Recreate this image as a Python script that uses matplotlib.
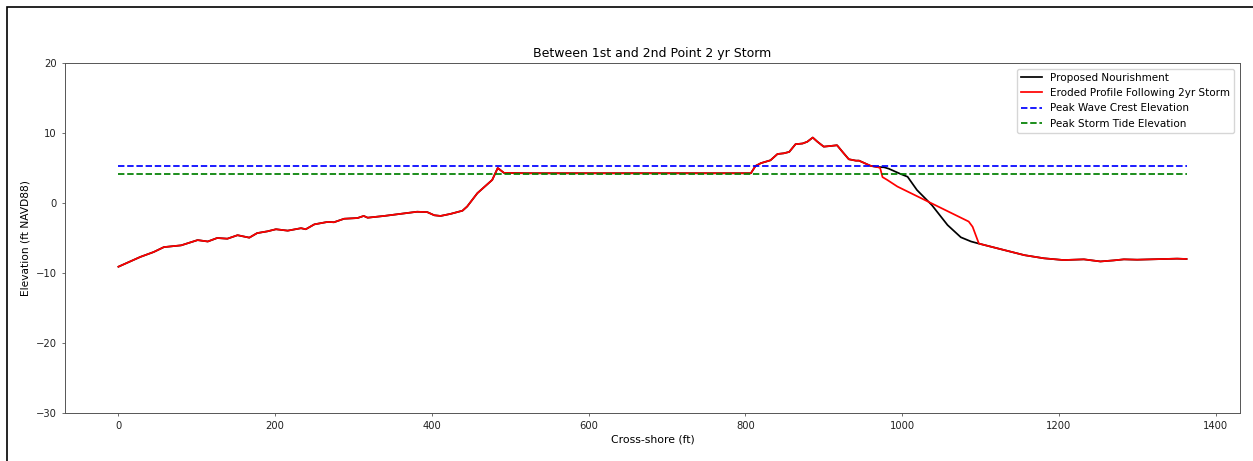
import matplotlib
matplotlib.use("Agg")
import matplotlib.pyplot as plt
from matplotlib.patches import Rectangle

# Profile shared by both surveys: landward side through the berm crest
landward_x = [0, 10, 28, 45, 58, 80, 101, 114, 126, 139, 152, 167, 177, 190, 201,
              216, 233, 239, 250, 267, 275, 288, 305, 313, 318, 339, 360, 381,
              394, 403, 411, 424, 439, 445, 458, 471, 477, 484, 492, 520, 600,
              700, 807, 813, 820, 832, 841, 849, 856, 864, 873, 879, 886, 892,
              900, 909, 917, 924, 932, 941, 945, 951, 960, 968]
landward_z = [-9.1, -8.6, -7.7, -7.0, -6.3, -6.05, -5.3, -5.5, -5.0, -5.1, -4.6,
              -4.95, -4.3, -4.05, -3.75, -3.95, -3.6, -3.75, -3.05, -2.7, -2.75,
              -2.25, -2.15, -1.85, -2.1, -1.85, -1.55, -1.25, -1.3, -1.75, -1.85,
              -1.55, -1.1, -0.5, 1.4, 2.7, 3.3, 5.0, 4.3, 4.25, 4.25, 4.25, 4.25,
              5.3, 5.7, 6.1, 7.0, 7.1, 7.3, 8.4, 8.5, 8.75, 9.35, 8.75, 8.05,
              8.15, 8.25, 7.3, 6.25, 6.05, 6.05, 5.75, 5.3, 5.15]

# Seaward toe of the proposed nourishment
nourish_toe_x = [977, 983, 998, 1007, 1019, 1038, 1058, 1075, 1088]
nourish_toe_z = [5.1, 4.9, 4.15, 3.75, 1.85, -0.3, -3.15, -4.9, -5.5]

# Seaward toe after the 2-yr storm
eroded_toe_x = [972, 975, 981, 994, 1085, 1090]
eroded_toe_z = [5.0, 3.7, 3.3, 2.35, -2.65, -3.4]

# Offshore profile, shared by both surveys
offshore_x = [1098, 1126, 1156, 1181, 1206, 1232, 1253, 1270, 1283, 1300, 1351, 1363]
offshore_z = [-5.8, -6.6, -7.45, -7.9, -8.15, -8.05, -8.35, -8.2, -8.05, -8.1, -7.95, -8.0]

wave_crest_elev = 5.3
storm_tide_elev = 4.1
water_x = [0, 1363]

proposed_x = landward_x + nourish_toe_x + offshore_x
proposed_z = landward_z + nourish_toe_z + offshore_z
eroded_x = landward_x + eroded_toe_x + offshore_x
eroded_z = landward_z + eroded_toe_z + offshore_z

plt.rcParams.update({
    "font.family": "DejaVu Sans",
    "font.size": 7.2,
    "axes.linewidth": 0.7,
    "axes.edgecolor": "#555555",
    "xtick.major.size": 2.5,
    "ytick.major.size": 2.5,
    "xtick.major.width": 0.6,
    "ytick.major.width": 0.6,
    "xtick.color": "#555555",
    "ytick.color": "#555555",
    "xtick.labelcolor": "#222222",
    "ytick.labelcolor": "#222222",
})

W, H = 1253, 461
fig = plt.figure(figsize=(W / 100, H / 100), dpi=100)
ax = fig.add_axes([65 / W, 1 - 413 / H, (1240 - 65) / W, (413 - 63) / H])

# outer frame around the figure
fig.patches.append(Rectangle((7 / W, -0.1), 1.2, 1 - 7 / H + 0.1,
                             transform=fig.transFigure, fill=False,
                             edgecolor="black", linewidth=1.2))

lw = 1.25
ax.plot(proposed_x, proposed_z, color="black", lw=lw, label="Proposed Nourishment")
ax.plot(eroded_x, eroded_z, color="red", lw=lw, label="Eroded Profile Following 2yr Storm")
ax.plot(water_x, [wave_crest_elev] * 2, "b--", lw=lw, label="Peak Wave Crest Elevation")
ax.plot(water_x, [storm_tide_elev] * 2, "g--", lw=lw, label="Peak Storm Tide Elevation")

ax.set_ylim(-30, 20)
ax.set_xlim(-68.2, 1431.2)
ax.set_title("Between 1st and 2nd Point 2 yr Storm", fontsize=9.0, pad=4)
ax.set_xlabel("Cross-shore (ft)", fontsize=7.8, labelpad=2)
ax.set_ylabel("Elevation (ft NAVD88)", fontsize=7.7, labelpad=4)
ax.legend(loc="upper right", fontsize=7.5, handlelength=2.0,
          borderaxespad=0.55)

fig.savefig("out.png", dpi=100)
